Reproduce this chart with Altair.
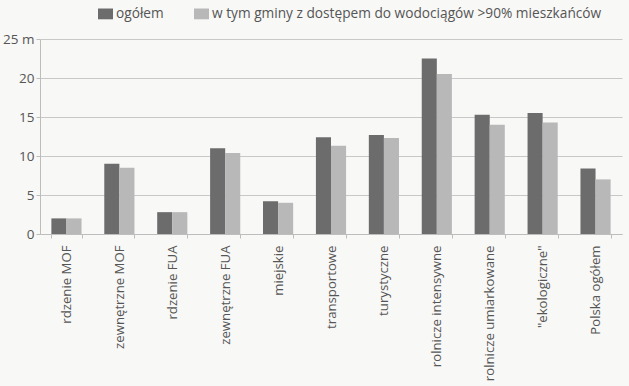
import altair as alt
import pandas as pd

categories = [
    "rdzenie MOF", "zewnętrzne MOF", "rdzenie FUA", "zewnętrzne FUA", "miejskie",
    "transportowe", "turystyczne", "rolnicze intensywne", "rolnicze umiarkowane",
    "\"ekologiczne\"", "Polska ogółem",
]
ogolem = [2.0, 9.0, 2.8, 11.0, 4.2, 12.4, 12.7, 22.5, 15.3, 15.5, 8.4]
wodociagi = [2.0, 8.5, 2.8, 10.4, 4.0, 11.3, 12.3, 20.5, 14.0, 14.3, 7.0]
series = ["ogółem", "w tym gminy z dostępem do wodociągów >90% mieszkańców"]
colors = ["#6c6c6c", "#b8b8b8"]

rows = []
for c, a, b in zip(categories, ogolem, wodociagi):
    rows.append({"kategoria": c, "seria": series[0], "wartosc": a})
    rows.append({"kategoria": c, "seria": series[1], "wartosc": b})
df = pd.DataFrame(rows)

font = "Open Sans"

chart = alt.Chart(df).mark_bar().encode(
    x=alt.X("kategoria:N", sort=categories, title=None,
            scale=alt.Scale(paddingInner=0.43, paddingOuter=0.215),
            axis=alt.Axis(labelAngle=-90, labelAlign="right", labelBaseline="middle",
                          labelFontSize=13.2, labelColor="#555555", labelPadding=7,
                          tickBand="extent", tickColor="#bdbdbd", tickSize=4,
                          domainColor="#bdbdbd", labelFont=font, labelLimit=300)),
    xOffset=alt.XOffset("seria:N", sort=series),
    y=alt.Y("wartosc:Q", title=None,
            scale=alt.Scale(domain=[0, 25], nice=False),
            axis=alt.Axis(values=[0, 5, 10, 15, 20, 25],
                          labelExpr="datum.value == 25 ? '25 m' : datum.label",
                          labelFontSize=13.5, labelColor="#555555", labelFont=font,
                          grid=True, gridColor="#c8c8c8", gridWidth=1,
                          domain=True, domainColor="#bdbdbd", tickColor="#bdbdbd",
                          tickSize=4, labelPadding=2)),
    color=alt.Color("seria:N", sort=series,
                    scale=alt.Scale(domain=series, range=colors),
                    legend=alt.Legend(title=None, orient="none", legendX=58, legendY=-33,
                                      direction="horizontal",
                                      symbolType="M-1,-0.72H1V0.72H-1Z",
                                      symbolSize=225, symbolStrokeWidth=0,
                                      labelFontSize=13.7, labelColor="#555555",
                                      labelFont=font, columnPadding=30, labelOffset=3,
                                      labelLimit=500)),
).properties(
    width=582, height=195,
    autosize=alt.AutoSizeParams(type="none"),
    padding={"left": 40, "top": 39, "right": 7, "bottom": 152},
    background="#f8f8f6",
).configure_view(stroke=None)

chart.save("out.html", embed_options={"renderer": "svg", "actions": False})
